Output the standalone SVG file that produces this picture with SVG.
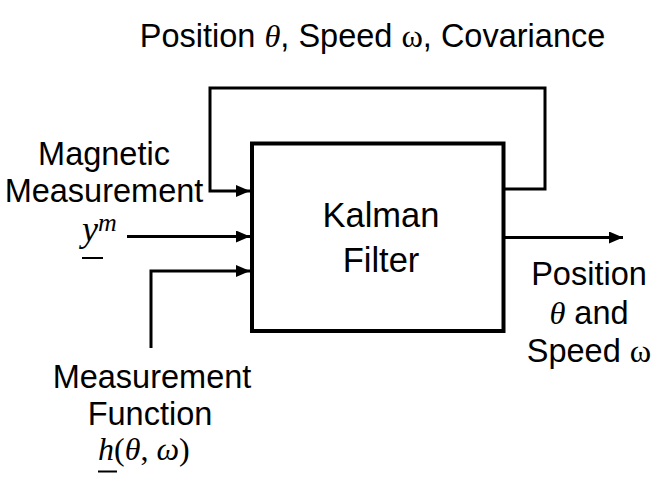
<svg xmlns="http://www.w3.org/2000/svg" width="659" height="486" viewBox="0 0 659 486">
<style>
.t{font-family:"Liberation Sans",Arial,sans-serif;font-size:32.5px;fill:#000}
.m{font-family:"Liberation Serif","Times New Roman",serif;font-style:italic}
.g{font-family:"Liberation Serif","Times New Roman",serif}
.ln{fill:none;stroke:#000;stroke-width:3}
</style>
<defs>
<marker id="ah" viewBox="0 0 14 12" refX="14" refY="6" markerWidth="14" markerHeight="12" markerUnits="userSpaceOnUse" orient="auto">
<path d="M0,0 L14,6 L0,12 Z" fill="#000"/>
</marker>
</defs>
<rect width="659" height="486" fill="#fff"/>
<g id="connectors">
<path class="ln" d="M503,189 H545 V88 H210 V191 H250" marker-end="url(#ah)"/>
<path class="ln" d="M127,236.5 H250" marker-end="url(#ah)"/>
<path class="ln" d="M151,348 V271 H250" marker-end="url(#ah)"/>
<path class="ln" d="M503,237.5 H623" marker-end="url(#ah)"/>
</g>
<g id="kalman-filter">
<rect x="252" y="143.5" width="251.5" height="187.5" fill="#fff" stroke="#000" stroke-width="4"/>
<text class="t" x="381" y="227" text-anchor="middle" style="font-size:34.5px">Kalman</text>
<text class="t" x="381" y="272" text-anchor="middle" style="font-size:34.5px">Filter</text>
</g>
<g id="label-feedback">
<text class="t" x="372.5" y="47" text-anchor="middle">Position <tspan class="m">θ</tspan>, Speed <tspan class="g">ω</tspan>, Covariance</text>
</g>
<g id="label-magnetic">
<text class="t" x="104" y="165" text-anchor="middle">Magnetic</text>
<text class="t" x="104" y="202" text-anchor="middle">Measurement</text>
<text class="m" x="82" y="241" style="font-size:36px">y<tspan dy="-10" style="font-size:26px">m</tspan></text>
<line x1="82" y1="258" x2="103" y2="258" stroke="#000" stroke-width="2"/>
</g>
<g id="label-function">
<text class="t" x="152" y="388" text-anchor="middle">Measurement</text>
<text class="t" x="150" y="425" text-anchor="middle">Function</text>
<text class="g" x="98" y="460" style="font-size:32px"><tspan class="m">h</tspan>(<tspan class="m">θ</tspan>, <tspan class="m">ω</tspan>)</text>
<line x1="98" y1="471.5" x2="117" y2="471.5" stroke="#000" stroke-width="2"/>
</g>
<g id="label-output">
<text class="t" x="589" y="285" text-anchor="middle">Position</text>
<text class="t" x="589" y="324" text-anchor="middle"><tspan class="m">θ</tspan> and</text>
<text class="t" x="589" y="362" text-anchor="middle">Speed <tspan class="g">ω</tspan></text>
</g>
</svg>
